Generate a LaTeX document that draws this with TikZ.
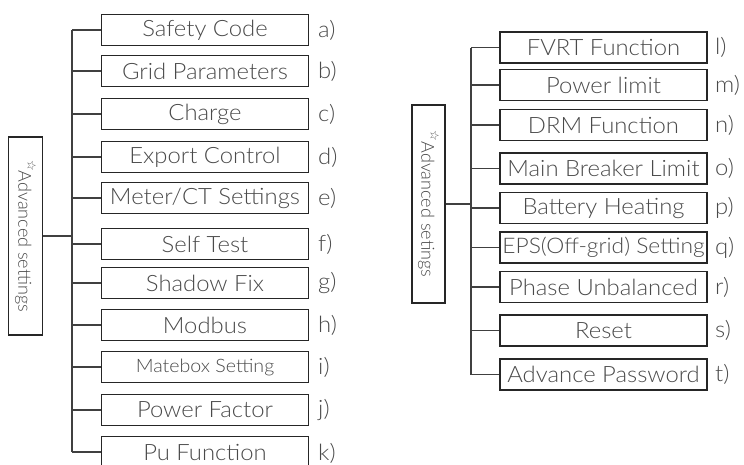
\documentclass[tikz,border=0pt]{standalone}
\usepackage{fontspec}
\setmainfont{Lato}[UprightFont=* Light, FakeStretch=1.06]
\newfontfamily\vfont{Lato}[UprightFont=* Light]
\newfontfamily\symfont{DejaVu Sans}
\definecolor{txt}{HTML}{4A4A4A}
\definecolor{bord}{HTML}{262626}
\definecolor{wire}{HTML}{404040}
\begin{document}
\begin{tikzpicture}[x=1pt,y=-1pt,
  item/.style={draw=bord, line width=1.6pt, minimum width=207pt, minimum height=31pt, inner sep=0pt,
    font=\fontsize{22.5}{22.5}\selectfont, text=txt},
  lab/.style={anchor=west, inner sep=0pt, font=\fontsize{22.5}{22.5}\selectfont, text=txt},
  conn/.style={draw=wire, line width=1.2pt},
  rootbox/.style={draw=bord, line width=1.6pt, minimum width=198pt, minimum height=34pt, inner sep=0pt,
    rotate=-90, font=\vfont\fontsize{18}{18}\selectfont, text=txt}]
\useasboundingbox (0,0) rectangle (744,464);

% ---------- left tree ----------
\node[rootbox] (rootL) at (25.5,236) {\raisebox{0.5em}{\symfont\fontsize{12}{12}\selectfont ☆}Advanced settings};
\coordinate (tl) at (72,0);

\node[item] (a) at (205,30)  {Safety Code};
\node[item] (b) at (205,71)  {Grid Parameters};
\node[item] (c) at (205,114) {Charge};
\node[item] (d) at (205,157) {Export Control};
\node[item] (e) at (205,198) {Meter/CT Settings};
\node[item] (f) at (205,244) {Self Test};
\node[item] (g) at (205,283) {Shadow Fix};
\node[item] (h) at (205,325) {Modbus};
\node[item, font=\fontsize{18.5}{18.5}\selectfont] (i) at (205,367) {Matebox Setting};
\node[item] (j) at (205,410) {Power Factor};
\node[item] (k) at (205,452) {Pu Function};

\foreach \n/\l in {a/a), b/b), c/c), d/d), e/e), f/f), g/g), h/h), i/i), j/j)}
  \node[lab] (l\n) at (318,0 |- \n.west) {\l};
\node[lab] (lk) at (318,453) {k)};

\draw[conn] (tl |- a.west) -- (tl |- k.west);
\foreach \n in {a,b,c,d,e,f,g,h,i,j,k}
  \draw[conn] (tl |- \n.west) -- (\n.west);
\draw[conn] (rootL.north) -- (tl |- rootL.north);

% ---------- right tree ----------
\node[rootbox, minimum height=33pt] (rootR) at (428.5,204) {\raisebox{0.5em}{\symfont\fontsize{12}{12}\selectfont ☆}Advanced setings};
\coordinate (tr) at (471,0);

\node[item] (nl) at (603.5,47.5)  {FVRT Function};
\node[item] (nm) at (603.5,85)    {Power limit};
\node[item] (nn) at (603.5,125)   {DRM Function};
\node[item] (no) at (603.5,168.5) {Main Breaker Limit};
\node[item] (np) at (603.5,208)   {Battery Heating};
\node[item, font=\fontsize{21.5}{21.5}\selectfont] (nq) at (603.5,247.5) {EPS(Off-grid) Setting};
\node[item] (nr) at (603.5,287)   {Phase Unbalanced};
\node[item] (ns) at (603.5,330.5) {Reset};
\node[item] (nt) at (603.5,374.5) {Advance Password};

\foreach \n/\l in {l/l), m/m), n/n), o/o), p/p), q/q), r/r), s/s), t/t)}
  \node[lab] (ll\n) at (715,0 |- n\n.west) {\l};

\draw[conn] (tr |- nl.west) -- (tr |- nt.west);
\foreach \n in {l,m,n,o,p,q,r,s,t}
  \draw[conn] (tr |- n\n.west) -- (n\n.west);
\draw[conn] (rootR.north) -- (tr |- rootR.north);
\end{tikzpicture}
\end{document}
